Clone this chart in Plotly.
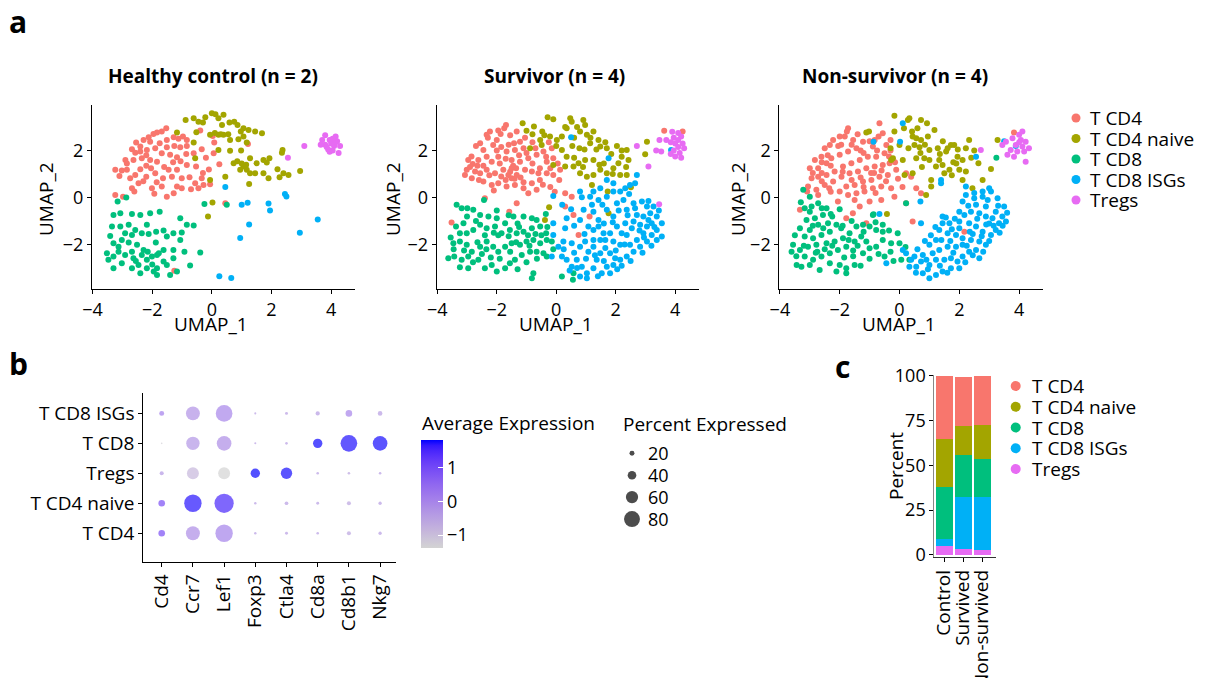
import plotly.graph_objects as go

W, H = 1207, 678
OFFSET = 8  # page body margin of the generated html
FONT = "Open Sans"

# ---------------- data ----------------
CLUSTERS = ["T CD4", "T CD4 naive", "T CD8", "T CD8 ISGs", "Tregs"]
COLORS = ["#F8766D", "#A3A500", "#00BF7D", "#00B0F6", "#E76BF3"]
PANEL_TITLES = ["Healthy control (n = 2)", "Survivor (n = 4)", "Non-survivor (n = 4)"]

# Healthy control UMAP points per cluster
HC_TCD4 = [(-1.53,2.95),(-1.68,2.81),(-1.84,2.77),(-1.96,2.71),(-2.12,2.57),(-2.07,2.38),(-2.29,2.45),(-2.54,2.34),(-2.40,2.17),(-2.68,2.06),(-2.57,1.91),(-2.40,1.96),(-2.18,2.03),(-1.90,2.10),(-1.75,2.31),(-1.51,2.45),(-1.28,2.57),(-1.12,2.50),(-0.97,2.60),(-0.84,2.45),(-0.39,2.85),(-1.26,2.20),(-1.06,2.14),(-0.84,2.20),(-1.51,2.14),(-1.68,1.89),(-1.40,1.82),(-1.17,1.72),(-0.86,1.86),(-0.61,1.89),(-0.34,2.06),(0.06,1.89),(0.08,2.34),(-2.90,1.60),(-2.63,1.60),(-2.35,1.67),(-2.07,1.60),(-1.84,1.53),(-3.24,1.18),(-3.02,1.15),(-3.10,0.92),(-2.85,1.18),(-2.74,0.82),(-2.57,0.96),(-2.40,1.21),(-2.20,0.89),(-2.04,1.25),(-1.90,1.04),(-1.64,0.82),(-1.45,1.18),(-1.34,0.89),(-1.17,1.18),(-1.01,0.82),(-0.75,0.87),(-0.56,0.61),(-0.34,0.82),(-0.28,0.54),(-0.53,1.32),(-0.84,1.39),(-0.06,0.57),(0.25,1.42),(-2.68,0.40),(-2.46,0.61),(-2.60,0.26),(-3.24,0.11),(-2.98,0.04),(-1.93,0.16),(-2.01,0.40),(-1.68,0.47),(-1.51,0.04),(-1.17,0.47),(-1.28,0.18),(-1.01,0.40),(0.45,-0.24),(-1.26,-3.11),(1.21,2.28),(-0.10,1.20),(-0.30,1.05),(-1.60,1.30),(-2.20,1.35),(-1.30,1.50),(-0.70,0.35),(-0.45,0.40),(-2.30,0.70),(0.03,2.62),(-2.85,1.45),(-1.05,1.55),(-0.20,1.70),(-1.85,0.65),(-2.20,1.80)]
HC_NAIVE = [(-0.88,3.30),(-0.61,3.38),(-0.45,3.23),(-0.30,3.19),(-0.22,3.42),(0.00,3.59),(0.12,3.55),(0.22,3.38),(0.39,3.52),(0.34,3.09),(0.59,3.19),(0.75,3.23),(0.86,3.09),(1.06,2.95),(0.97,2.81),(1.23,2.88),(1.45,2.81),(1.68,2.74),(-0.06,2.67),(0.22,2.67),(0.39,2.67),(0.61,2.45),(0.89,2.48),(1.06,2.60),(1.17,2.34),(-0.52,2.78),(-1.17,2.77),(-0.61,2.34),(0.22,2.03),(0.61,1.99),(0.98,2.00),(1.28,1.67),(1.50,1.46),(1.73,1.60),(1.93,1.67),(1.84,1.49),(1.06,1.32),(1.17,1.18),(0.95,1.18),(1.28,1.04),(1.45,1.04),(1.73,1.04),(1.90,0.82),(1.25,0.58),(0.73,1.46),(0.45,0.89),(-0.06,0.75),(2.20,1.21),(2.27,0.87),(2.40,1.04),(2.57,0.96),(2.35,1.91),(2.96,1.13),(-0.56,1.67),(0.02,-0.21),(-0.13,-0.81),(2.37,2.03),(0.30,2.70),(0.55,2.70),(0.10,2.75),(1.00,1.45),(1.15,1.40),(0.85,1.55)]
HC_CD8 = [(-3.16,-0.17),(-2.87,0.00),(-3.30,-0.74),(-3.07,-0.67),(-2.68,-0.70),(-2.40,-0.74),(-2.07,-0.67),(-1.75,-0.60),(-3.35,-1.23),(-3.07,-1.23),(-2.79,-1.16),(-2.57,-1.38),(-2.35,-1.52),(-2.18,-1.16),(-1.87,-1.45),(-1.62,-1.40),(-1.29,-1.52),(-1.06,-0.88),(-0.84,-1.16),(-0.61,-1.19),(-1.01,-1.49),(-3.41,-1.63),(-3.30,-1.94),(-3.02,-1.80),(-2.79,-1.91),(-2.51,-2.01),(-2.68,-2.30),(-2.29,-2.23),(-1.88,-1.91),(-1.62,-2.23),(-1.29,-2.23),(-1.51,-1.66),(-3.52,-2.37),(-3.30,-2.51),(-3.13,-2.30),(-2.91,-2.44),(-2.63,-2.58),(-2.35,-2.44),(-2.18,-2.65),(-2.01,-2.51),(-1.84,-2.44),(-1.62,-2.72),(-1.51,-2.87),(-1.84,-3.01),(-2.18,-3.01),(-2.46,-2.87),(-2.68,-3.01),(-3.02,-2.79),(-3.30,-3.01),(-3.47,-2.65),(-1.84,-3.29),(-2.40,-3.22),(-1.40,-3.29),(-1.17,-3.15),(-0.73,-2.89),(-0.39,-2.34),(-0.92,-2.30),(-1.29,-2.58),(-1.06,-1.80),(-0.25,-0.27),(0.50,-0.31),(-2.68,-1.59),(-2.12,-1.55),(-2.91,-1.52),(-1.78,-2.37),(-2.15,-2.30),(-3.13,-2.09),(-2.00,-2.85),(-2.55,-2.70),(-1.95,-3.15)]
HC_ISG = [(0.45,0.45),(2.45,0.15),(2.50,0.05),(1.00,-0.30),(1.20,-0.22),(1.90,-0.25),(1.95,-0.55),(1.25,-1.15),(0.95,-1.72),(2.95,-1.50),(3.55,-0.93),(0.25,-3.35),(0.65,-3.42)]
HC_TREG = [(3.80,2.65),(4.15,2.60),(3.70,2.45),(3.95,2.45),(4.20,2.40),(3.80,2.25),(4.00,2.30),(4.10,2.20),(4.30,2.20),(3.65,2.25),(3.90,2.05),(4.05,2.00),(4.25,1.90),(3.95,1.95),(4.15,2.35),(3.85,2.15),(4.05,2.50),(3.10,2.20),(2.55,1.70)]

# Survivor UMAP points per cluster
SV_TCD4 = [(-1.75,2.95),(-1.69,3.09),(-1.87,2.71),(-2.00,2.45),(-2.12,2.24),(-2.56,2.31),(-2.45,2.03),(-2.96,1.60),(-2.81,1.43),(-2.62,1.60),(-2.34,1.74),(-2.17,1.53),(-1.95,1.74),(-1.67,1.96),(-1.39,2.03),(-1.10,2.10),(-1.33,2.81),(-1.42,2.31),(-1.22,2.38),(-1.50,1.60),(-1.22,1.53),(-0.94,1.67),(-0.66,1.82),(-0.43,1.96),(-0.15,2.10),(-0.34,1.74),(-0.10,1.67),(-3.07,0.96),(-3.01,1.18),(-2.73,1.11),(-2.84,0.82),(-2.56,1.04),(-2.34,1.18),(-2.06,1.04),(-1.78,1.18),(-1.61,0.96),(-1.50,0.82),(-1.33,0.96),(-1.05,1.18),(-0.82,1.11),(-0.60,1.04),(-0.32,1.04),(-0.10,0.96),(-2.45,0.68),(-2.17,0.54),(-1.95,0.61),(-1.67,0.47),(-1.39,0.54),(-1.10,0.40),(-0.82,0.61),(-0.66,0.33),(-0.94,0.18),(-2.40,-0.03),(-1.33,-0.24),(-1.58,-0.60),(0.30,0.18),(0.52,0.04),(0.30,-0.38),(0.58,-0.74),(1.12,-0.81),(0.75,-1.59),(-3.52,-1.06),(-0.32,1.53),(0.13,1.18),(-1.50,1.25),(-2.23,2.81),(-2.34,2.67),(-1.55,1.10),(-1.45,1.35),(-1.70,0.75),(-1.20,0.85),(-2.65,1.35),(-1.85,2.15),(-1.05,2.55),(-0.80,2.35),(0.05,1.45),(-0.55,0.75),(-1.85,0.90),(-2.10,0.30),(3.63,2.84),(4.25,2.81),(-0.25,2.35),(-2.85,1.75),(-2.70,2.20),(-2.30,2.55),(-1.95,2.85),(-1.55,2.65),(-1.60,2.25),(-1.25,1.80),(-0.80,1.45),(-0.55,1.25),(-0.20,1.25),(-1.90,1.45),(-2.45,1.35),(-2.90,1.30),(-2.60,0.75),(-1.40,0.80),(-1.10,0.65),(-0.45,0.55),(-0.20,0.45),(-2.00,2.00),(-1.70,1.65),(-1.00,1.90),(-0.70,2.10),(-1.35,1.25),(-2.25,0.95),(0.10,0.75),(-0.05,0.25)]
SV_NAIVE = [(-1.13,3.16),(-0.75,3.02),(-1.00,2.84),(-0.47,2.81),(-0.29,3.42),(-0.10,3.33),(-0.21,2.60),(0.02,2.45),(0.19,2.60),(0.35,2.95),(0.47,3.38),(0.52,3.23),(0.91,3.30),(0.97,3.09),(0.80,2.81),(1.03,2.67),(1.25,2.81),(1.42,2.45),(1.14,2.31),(1.48,2.17),(1.70,2.10),(2.04,2.20),(2.37,2.03),(2.20,1.74),(2.43,1.60),(2.09,1.46),(1.92,1.25),(2.15,0.96),(2.37,0.96),(1.70,1.04),(1.48,1.18),(1.25,1.60),(0.97,1.60),(0.75,1.46),(0.58,1.32),(0.80,1.04),(1.03,0.89),(1.25,0.96),(1.20,0.54),(1.73,0.26),(1.76,-0.67),(2.99,1.84),(3.05,2.38),(0.19,2.03),(0.35,1.74),(-0.10,1.39),(0.30,1.32),(-0.88,2.10),(-0.49,2.24),(-0.24,-0.41),(-0.38,-0.95),(2.51,0.44),(0.54,2.20),(-0.54,2.45),(0.78,2.10),(1.35,2.05),(1.60,1.45),(0.60,2.55),(0.95,2.05),(1.85,1.85),(0.30,3.00),(0.70,3.00),(1.15,2.55),(1.65,2.35),(2.20,2.00),(2.35,1.30),(1.90,1.00),(1.45,1.40),(0.90,1.30),(0.60,1.70),(0.00,2.20),(-0.40,2.65),(-0.80,2.70)]
SV_CD8 = [(-3.35,-0.31),(-3.18,-0.45),(-2.99,-0.45),(-2.79,-0.52),(-2.43,-0.10),(-2.56,-0.74),(-2.28,-0.81),(-2.00,-0.88),(-1.72,-1.09),(-1.44,-0.81),(-1.10,-0.81),(-0.82,-0.88),(-0.66,-0.95),(-3.37,-1.23),(-3.12,-1.09),(-3.24,-1.52),(-3.01,-1.52),(-2.79,-1.38),(-2.56,-1.16),(-2.34,-1.30),(-2.06,-1.23),(-1.84,-1.52),(-1.56,-1.38),(-1.33,-1.52),(-1.10,-1.45),(-0.82,-1.30),(-0.54,-1.23),(-3.46,-1.94),(-3.24,-1.87),(-3.01,-2.01),(-2.84,-2.30),(-2.56,-2.09),(-2.34,-1.87),(-2.12,-2.09),(-1.95,-2.30),(-1.72,-2.09),(-1.50,-1.94),(-1.22,-2.01),(-1.00,-1.87),(-0.77,-1.80),(-0.54,-1.94),(-0.32,-1.80),(-3.63,-2.58),(-3.43,-2.51),(-3.18,-2.65),(-2.96,-2.51),(-3.24,-2.96),(-2.96,-3.01),(-2.62,-2.65),(-2.40,-3.01),(-2.17,-2.87),(-2.00,-3.15),(-1.72,-3.01),(-1.56,-2.79),(-1.39,-2.65),(-1.16,-2.44),(-0.88,-2.30),(-0.66,-2.30),(-0.43,-2.37),(-0.32,-2.51),(-0.77,-3.22),(-0.82,-3.43),(0.19,-3.36),(0.56,-3.50),(0.58,-3.22),(-0.15,-1.87),(-0.34,-1.52),(-0.35,-0.70),(-1.95,-1.60),(-2.65,-1.90),(-1.30,-1.10),(-2.20,-2.55),(-3.00,-0.80),(-2.70,-1.00),(-2.40,-1.60),(-2.10,-1.50),(-1.60,-1.65),(-1.35,-1.90),(-0.95,-1.60),(-0.70,-1.55),(-0.50,-1.60),(-0.90,-2.05),(-0.65,-2.60),(-1.00,-2.75),(-1.30,-3.05),(-1.90,-2.60),(-2.35,-2.20),(-2.80,-2.75),(-3.10,-2.25),(-3.45,-2.20),(-2.00,-0.55),(-1.60,-0.75),(-1.25,-1.25),(-0.30,-1.25),(-3.55,-1.70),(-2.50,-2.40),(-1.55,-2.30),(-0.10,-2.20)]
SV_ISG = [(-0.10,0.07),(0.86,0.01),(1.14,0.04),(1.42,-0.10),(1.70,0.04),(1.92,0.26),(2.15,0.26),(2.32,0.40),(2.48,0.54),(2.65,0.61),(2.71,0.96),(1.76,1.67),(1.70,0.75),(1.92,0.61),(2.04,-0.24),(2.26,-0.10),(2.60,-0.24),(2.88,-0.17),(3.05,-0.38),(3.27,-0.38),(3.16,-0.67),(2.93,-0.81),(2.71,-0.74),(3.38,-0.81),(3.21,-1.09),(3.55,-1.09),(3.05,-1.23),(2.82,-1.16),(2.60,-1.02),(3.38,-1.38),(3.55,-1.66),(3.21,-1.59),(2.93,-1.52),(2.71,-1.80),(3.05,-1.87),(3.38,-1.80),(2.48,-2.01),(2.82,-2.09),(2.60,-2.30),(2.37,-2.51),(2.15,-2.65),(1.92,-2.87),(1.70,-2.94),(1.98,-2.58),(1.81,-2.37),(2.15,-2.01),(1.92,-1.87),(2.20,-1.52),(2.37,-1.59),(2.04,-1.23),(1.81,-1.52),(1.59,-1.52),(1.42,-1.23),(1.25,-1.38),(1.48,-1.80),(1.25,-2.09),(1.48,-2.37),(1.36,-2.65),(1.25,-3.01),(1.53,-3.22),(1.81,-3.22),(1.03,-3.22),(0.86,-2.94),(0.69,-2.65),(0.80,-3.36),(1.03,-3.43),(0.52,-2.94),(0.35,-2.65),(0.19,-2.51),(0.07,-2.09),(0.24,-1.87),(0.52,-1.94),(0.80,-2.09),(1.08,-2.30),(0.97,-1.87),(-0.10,-1.59),(-0.10,-1.09),(0.35,-0.88),(0.80,-0.95),(0.92,-0.52),(1.25,-0.60),(1.42,-0.95),(1.08,-1.23),(1.70,-0.52),(1.92,-0.81),(2.37,-0.52),(2.32,-1.09),(2.54,-1.30),(-0.15,-2.51),(0.80,0.26),(1.25,0.26),(1.48,0.40),(0.50,2.57),(3.86,2.03),(2.90,-2.35),(3.10,-0.95),(1.60,-2.70),(0.45,-3.10),(2.00,-2.25),(0.20,-0.30),(0.50,-0.50),(0.60,-1.20),(0.30,-1.30),(0.95,-1.55),(1.25,-1.80),(1.65,-1.80),(1.65,-2.15),(2.30,-2.00),(2.50,-2.70),(2.20,-2.90),(1.00,-2.60),(1.30,-2.45),(0.60,-2.35),(0.25,-2.20),(0.70,-3.00),(1.40,-3.35),(2.05,-3.05),(2.80,-1.40),(3.30,-1.25),(3.45,-0.55),(3.10,-0.15),(2.45,0.15),(1.55,-0.30),(1.20,-0.30),(2.65,-0.45),(2.40,-0.75),(2.10,-0.55),(1.90,-1.05),(1.60,-1.10),(3.20,-2.05),(2.95,-1.70)]
SV_TREG = [(3.90,2.80),(4.10,2.75),(4.20,2.60),(3.95,2.55),(4.10,2.45),(4.25,2.30),(4.00,2.30),(3.85,2.35),(4.10,2.15),(4.30,2.10),(3.95,2.00),(4.15,1.90),(4.00,1.75),(3.85,1.85),(4.20,1.70),(3.70,2.45),(3.47,2.45),(3.36,2.00),(3.10,1.32),(3.53,1.96),(3.46,-0.28),(2.71,2.20)]

# Non-survivor UMAP points per cluster
NS_TCD4 = [(-1.72,2.95),(-1.76,2.81),(-1.83,2.60),(-2.22,2.45),(-2.33,2.24),(-2.50,2.10),(-2.61,1.74),(-2.83,1.60),(-3.00,1.25),(-2.72,1.25),(-2.44,1.46),(-2.28,1.67),(-2.00,1.82),(-1.72,1.96),(-1.44,2.10),(-1.22,2.38),(-0.89,2.17),(-0.83,2.45),(-0.67,3.16),(-0.56,2.74),(-0.44,2.24),(-0.50,1.89),(-0.78,1.74),(-1.06,1.74),(-1.33,1.60),(-1.61,1.46),(-1.89,1.32),(-2.17,1.11),(-2.44,0.96),(-2.72,0.89),(-2.94,0.82),(-3.06,0.47),(-2.78,0.33),(-3.09,0.26),(-3.33,-0.52),(-2.50,0.54),(-2.22,0.68),(-1.94,0.89),(-1.67,1.04),(-1.39,1.11),(-1.11,1.25),(-0.83,1.32),(-0.56,1.39),(-0.33,1.46),(-0.11,1.18),(-0.39,0.96),(-0.67,0.89),(-0.94,0.75),(-1.22,0.68),(-1.50,0.54),(-1.78,0.47),(-2.00,0.26),(-1.72,0.11),(-1.44,0.18),(-1.17,0.26),(-0.89,0.40),(-0.61,0.47),(-0.28,0.40),(-0.17,0.04),(-0.61,-0.10),(-1.00,-0.17),(-1.33,-0.38),(-1.56,-0.67),(-1.78,-0.88),(-1.11,-1.09),(-2.06,-0.17),(0.22,1.04),(0.39,0.89),(0.56,0.40),(0.72,0.18),(0.22,-0.24),(0.44,-1.02),(2.17,-1.45),(-2.72,0.11),(3.83,2.77),(-1.95,2.25),(-1.20,1.90),(-0.95,1.05),(-2.30,0.25),(-0.30,2.00),(-1.55,2.45),(-2.60,1.05),(-2.90,1.05),(-2.60,1.50),(-2.40,1.80),(-2.05,2.20),(-1.60,2.25),(-1.30,2.00),(-1.00,2.40),(-0.75,2.00),(-0.35,1.75),(-0.15,1.50),(-0.60,1.15),(-0.85,1.05),(-1.30,0.85),(-1.60,0.75),(-1.90,1.10),(-2.30,1.35),(-2.60,0.70),(-2.35,0.40),(-1.20,0.45),(-0.45,0.70),(-0.05,0.80),(0.10,0.45),(-0.80,0.20),(-1.50,-0.10),(-2.00,2.60),(-1.40,2.70),(-0.70,2.60),(-0.30,2.45)]
NS_NAIVE = [(-1.11,2.77),(-1.02,2.81),(-0.17,3.48),(-0.17,2.81),(0.28,3.30),(0.33,3.38),(0.42,2.81),(0.72,3.30),(0.92,3.16),(1.17,2.88),(0.56,2.52),(0.72,2.45),(0.50,2.24),(0.67,2.14),(1.00,2.03),(1.28,2.10),(1.61,2.10),(1.72,2.24),(1.83,2.24),(1.56,1.96),(1.94,1.74),(2.22,2.10),(2.33,2.45),(2.50,2.00),(2.11,1.60),(2.00,1.18),(2.22,1.11),(1.67,1.18),(1.44,1.39),(1.22,1.32),(1.33,1.60),(1.00,1.60),(0.83,1.67),(0.56,1.67),(0.44,1.04),(0.17,0.96),(0.11,1.60),(-0.22,1.67),(-0.28,1.60),(1.06,0.75),(1.06,0.47),(0.89,0.11),(2.11,0.75),(2.44,0.40),(2.78,0.75),(3.06,1.22),(2.64,1.46),(-0.42,-0.70),(0.44,2.60),(0.00,2.24),(1.50,1.04),(3.28,2.45),(1.80,1.50),(0.70,1.90),(1.95,2.05),(0.15,2.95),(0.60,2.95),(0.95,2.60),(1.45,2.40),(1.35,1.85),(1.90,1.45),(2.40,1.70),(1.75,0.95),(0.75,1.30),(0.30,2.10),(-0.30,2.10),(0.85,2.25)]
NS_CD8 = [(-3.22,0.33),(-3.00,0.04),(-2.72,-0.24),(-2.94,-0.38),(-3.17,-0.45),(-2.44,-0.45),(-2.56,-0.74),(-2.83,-0.88),(-3.11,-0.95),(-3.33,-1.30),(-3.00,-1.38),(-2.72,-1.16),(-2.39,-1.09),(-2.11,-1.16),(-2.33,-1.45),(-2.61,-1.59),(-2.89,-1.73),(-3.17,-1.66),(-3.56,-2.01),(-3.61,-2.30),(-3.33,-2.23),(-3.06,-2.09),(-2.78,-2.01),(-2.44,-1.94),(-2.17,-1.87),(-1.89,-1.73),(-1.67,-1.52),(-1.44,-1.23),(-1.22,-1.16),(-1.00,-1.23),(-0.78,-1.38),(-0.56,-1.45),(-0.89,-0.74),(-1.28,-1.66),(-1.50,-1.87),(-1.78,-2.09),(-2.06,-2.23),(-2.33,-2.37),(-2.61,-2.51),(-2.89,-2.65),(-3.17,-2.51),(-3.44,-2.87),(-3.28,-2.94),(-3.00,-2.87),(-2.67,-3.08),(-2.33,-2.79),(-2.11,-3.15),(-2.00,-2.87),(-1.78,-3.01),(-1.50,-2.87),(-1.78,-3.22),(-1.22,-2.37),(-1.00,-2.16),(-0.78,-2.09),(-1.11,-1.87),(-0.56,-1.80),(-0.28,-1.94),(-0.50,-2.51),(0.00,-1.94),(0.06,-2.65),(0.33,-2.65),(-0.06,-1.52),(-0.56,-1.16),(0.22,-0.24),(-0.87,-0.71),(3.24,1.70),(-2.25,-0.80),(-1.95,-1.30),(-2.75,-2.30),(-1.55,-2.50),(-3.30,-0.20),(-3.00,-0.60),(-2.60,-0.45),(-2.30,-0.70),(-2.00,-0.50),(-1.90,-1.20),(-1.60,-1.00),(-1.20,-1.45),(-0.80,-1.05),(-0.35,-1.40),(-0.30,-2.30),(-0.70,-2.40),(-1.00,-2.60),(-1.30,-2.90),(-1.55,-2.25),(-1.85,-2.55),(-2.25,-2.05),(-2.50,-2.20),(-2.80,-2.35),(-3.45,-2.50),(-3.20,-2.05),(-2.90,-1.20),(-2.55,-1.30),(-1.70,-1.80),(-1.40,-2.05),(-0.20,-2.70),(0.20,-2.10),(-3.50,-1.60)]
NS_ISG = [(-0.67,-0.70),(0.70,-0.17),(1.39,0.61),(2.22,0.47),(2.56,1.74),(2.22,0.11),(2.50,-0.03),(2.78,0.04),(3.06,0.26),(2.11,-0.17),(2.56,-0.31),(2.89,-0.38),(3.22,-0.60),(3.44,-0.81),(3.56,-1.02),(3.33,-1.09),(3.11,-0.88),(2.89,-0.81),(2.67,-0.67),(2.39,-0.60),(2.17,-0.74),(3.22,-1.38),(3.06,-1.59),(2.78,-1.45),(2.56,-1.23),(2.33,-1.09),(2.00,-1.02),(1.67,-1.09),(1.44,-1.09),(1.33,-1.38),(1.61,-1.52),(1.89,-1.59),(2.11,-1.73),(2.39,-1.80),(2.67,-1.87),(2.89,-2.01),(2.56,-2.23),(2.33,-2.30),(2.67,-2.58),(2.11,-2.51),(1.94,-2.72),(1.72,-2.58),(1.50,-2.65),(1.72,-3.01),(2.00,-3.01),(1.44,-3.15),(1.22,-3.29),(1.00,-3.43),(0.78,-3.22),(0.56,-2.94),(0.72,-2.72),(1.00,-2.87),(1.22,-2.65),(1.11,-2.37),(1.33,-2.23),(1.61,-2.09),(1.89,-2.09),(2.11,-2.01),(1.00,-2.01),(1.22,-1.80),(0.78,-2.44),(0.50,-2.51),(0.22,-2.37),(0.11,-2.23),(0.39,-2.65),(0.33,-2.94),(1.44,-0.81),(2.00,-0.60),(0.72,-1.09),(2.78,0.26),(3.00,0.40),(3.28,-0.03),(3.50,-0.38),(-0.44,-2.79),(0.11,3.16),(0.02,2.38),(-0.87,2.38),(1.39,0.75),(3.89,2.20),(3.50,2.40),(2.45,-1.55),(1.80,-2.35),(0.95,-3.05),(3.00,-1.10),(1.55,-0.85),(1.20,-1.25),(1.05,-1.60),(0.85,-1.85),(0.60,-2.20),(0.90,-2.65),(1.35,-2.90),(1.60,-3.20),(2.20,-2.75),(2.45,-2.45),(2.80,-2.30),(3.00,-1.85),(3.35,-1.50),(3.45,-1.20),(3.60,-0.65),(3.30,-0.35),(2.95,-0.10),(2.60,-0.90),(2.35,-1.45),(2.00,-1.30),(1.75,-1.35),(1.40,-1.80),(1.70,-1.85),(2.25,-2.05),(0.55,-3.20),(2.50,0.20),(2.30,-0.35),(1.85,-0.90),(2.75,-1.65),(2.90,-1.15),(3.15,-1.20)]
NS_TREG = [(3.56,2.38),(3.78,2.52),(4.00,2.67),(4.11,2.81),(4.06,2.45),(4.22,2.38),(3.89,2.24),(4.11,2.17),(4.33,2.10),(3.72,2.03),(3.94,1.96),(4.17,1.96),(3.61,1.82),(3.83,1.74),(4.22,1.53),(3.44,2.24),(2.72,2.03),(4.00,2.35)]

UMAP_POINTS = [
    [HC_TCD4, HC_NAIVE, HC_CD8, HC_ISG, HC_TREG],
    [SV_TCD4, SV_NAIVE, SV_CD8, SV_ISG, SV_TREG],
    [NS_TCD4, NS_NAIVE, NS_CD8, NS_ISG, NS_TREG],
]
UMAP_XTICKS = [-4, -2, 0, 2, 4]
UMAP_YTICKS = [-2, 0, 2]

# Dot plot (rows bottom->top, columns = genes)
GENES = ["Cd4", "Ccr7", "Lef1", "Foxp3", "Ctla4", "Cd8a", "Cd8b1", "Nkg7"]
DOT_GROUPS = ["T CD4", "T CD4 naive", "Tregs", "T CD8", "T CD8 ISGs"]
AVG_EXP = [
    [0.90, -0.15, 0.05, -0.45, -0.44, -0.45, -0.57, -0.44],    # T CD4
    [0.90, 1.70, 1.50, -0.45, -0.44, -0.45, -0.57, -0.44],     # T CD4 naive
    [-0.35, -0.90, -1.38, 1.79, 1.75, -0.45, -0.57, -0.44],    # Tregs
    [-1.30, -0.30, -0.15, -0.45, -0.44, 1.78, 1.72, 1.75],     # T CD8
    [0.10, -0.25, -0.02, -0.45, -0.44, -0.40, 0.00, -0.44],    # T CD8 ISGs
]
PCT_EXP = [
    [29, 69, 88, 6, 9, 7, 15, 11],
    [29, 88, 98, 6, 13, 9, 15, 11],
    [15, 58, 58, 44, 55, 7, 7, 7],
    [2, 66, 73, 4, 7, 44, 84, 73],
    [20, 69, 84, 4, 9, 16, 29, 18],
]
SIZE_BREAKS = [20, 40, 60, 80]
COLOR_TICKS = [-1, 0, 1]
EXP_MIN, EXP_MAX = -1.38, 1.82

# Stacked bars (percent of cells)
CONDITIONS = ["Control", "Survived", "Non-survived"]
PCT_TCD4 = [35.3, 27.0, 27.5]
PCT_NAIVE = [26.8, 16.3, 19.0]
PCT_CD8 = [29.0, 23.3, 21.0]
PCT_ISG = [3.7, 29.0, 29.5]
PCT_TREG = [5.2, 3.5, 3.0]
BAR_TICKS = [0, 25, 50, 75, 100]

# ---------------- helpers ----------------
def px(x):
    return (x - OFFSET) / W

def py(y):
    return 1 - (y - OFFSET) / H

def dot_size(p):
    return 1.3 + 0.183 * p

def _to_lin(c):
    c = c / 255
    return c / 12.92 if c <= 0.04045 else ((c + 0.055) / 1.055) ** 2.4

def _from_lin(c):
    c = max(0.0, c)
    v = 12.92 * c if c <= 0.0031308 else 1.055 * c ** (1 / 2.4) - 0.055
    return int(max(0, min(255, round(v * 255))))

def rgb_to_lab(r, g, b):
    R, G, B = _to_lin(r), _to_lin(g), _to_lin(b)
    X = 0.4124 * R + 0.3576 * G + 0.1805 * B
    Y = 0.2126 * R + 0.7152 * G + 0.0722 * B
    Z = 0.0193 * R + 0.1192 * G + 0.9505 * B
    def f(t):
        return t ** (1 / 3) if t > 0.008856 else 7.787 * t + 16 / 116
    fx, fy, fz = f(X / 0.95047), f(Y), f(Z / 1.08883)
    return 116 * fy - 16, 500 * (fx - fy), 200 * (fy - fz)

def lab_to_rgb(L, a, b):
    fy = (L + 16) / 116
    fx = fy + a / 500
    fz = fy - b / 200
    def finv(t):
        return t ** 3 if t ** 3 > 0.008856 else (t - 16 / 116) / 7.787
    X, Y, Z = finv(fx) * 0.95047, finv(fy), finv(fz) * 1.08883
    R = 3.2406 * X - 1.5372 * Y - 0.4986 * Z
    G = -0.9689 * X + 1.8758 * Y + 0.0415 * Z
    B = 0.0557 * X - 0.2040 * Y + 1.0570 * Z
    return _from_lin(R), _from_lin(G), _from_lin(B)

lab_lo = rgb_to_lab(211, 211, 211)
lab_hi = rgb_to_lab(0, 0, 255)
COLORSCALE = []
for i in range(21):
    t = i / 20
    L = lab_lo[0] + t * (lab_hi[0] - lab_lo[0])
    A = lab_lo[1] + t * (lab_hi[1] - lab_lo[1])
    B = lab_lo[2] + t * (lab_hi[2] - lab_lo[2])
    r, g, b = lab_to_rgb(L, A, B)
    COLORSCALE.append([t, f"rgb({r},{g},{b})"])

TICKFONT = dict(family=FONT, size=18, color="black")
LABFONT = dict(family=FONT, size=19, color="black")

def axis(domain, **kw):
    d = dict(domain=domain, showline=True, linecolor="black", linewidth=1,
             ticks="outside", ticklen=4, tickwidth=1, tickcolor="black",
             showgrid=False, zeroline=False, tickfont=TICKFONT, fixedrange=True,
             automargin=False)
    d.update(kw)
    return d

def hidden(domain, rng, **kw):
    d = dict(domain=domain, range=rng, visible=False, fixedrange=True)
    d.update(kw)
    return d

fig = go.Figure()
layout = {}
annotations = []

# ---------------- panel a: UMAPs ----------------
UMAP_XDOM = [(92, 355), (436.7, 699), (779.3, 1043)]
UMAP_TITLE_X = [213, 554, 895]
UMAP_XLAB_X = [211, 556, 899]
UMAP_YLAB_X = [46, 393, 738]
for p in range(3):
    xa = "x" if p == 0 else f"x{p + 1}"
    ya = "y" if p == 0 else f"y{p + 1}"
    for c, pts in enumerate(UMAP_POINTS[p]):
        fig.add_trace(go.Scatter(
            x=[q[0] for q in pts], y=[q[1] for q in pts], mode="markers",
            marker=dict(color=COLORS[c], size=6, line=dict(width=0)),
            name=CLUSTERS[c], showlegend=False, xaxis=xa, yaxis=ya))
    x0, x1 = UMAP_XDOM[p]
    key = "" if p == 0 else str(p + 1)
    layout["xaxis" + key] = axis([px(x0), px(x1)], range=[-4.02, 4.8],
                                tickvals=UMAP_XTICKS, anchor=ya)
    layout["yaxis" + key] = axis([py(289), py(105)], range=[-3.89, 3.94],
                                tickvals=UMAP_YTICKS, anchor=xa)
    annotations.append(dict(text=f"<b>{PANEL_TITLES[p]}</b>", x=px(UMAP_TITLE_X[p]), y=py(76),
                            xref="paper", yref="paper", showarrow=False,
                            xanchor="center", yanchor="middle",
                            font=dict(family=FONT, size=19, color="black")))
    annotations.append(dict(text="UMAP_1", x=px(UMAP_XLAB_X[p]), y=py(324),
                            xref="paper", yref="paper", showarrow=False,
                            xanchor="center", yanchor="middle", font=LABFONT))
    annotations.append(dict(text="UMAP_2", x=px(UMAP_YLAB_X[p]), y=py(199), textangle=-90,
                            xref="paper", yref="paper", showarrow=False,
                            xanchor="center", yanchor="middle", font=LABFONT))

# UMAP legend (manual keys)
fig.add_trace(go.Scatter(x=[0] * len(CLUSTERS), y=list(range(len(CLUSTERS))), mode="markers",
                         marker=dict(color=COLORS, size=9, line=dict(width=0)),
                         showlegend=False, xaxis="x7", yaxis="y7", hoverinfo="skip"))
layout["xaxis7"] = hidden([px(1066), px(1200)], [-10, 124], anchor="y7")
layout["yaxis7"] = hidden([py(210.25), py(107.75)], [4.5, -0.5], anchor="x7")
for i, name in enumerate(CLUSTERS):
    annotations.append(dict(text=name, x=12, y=i, xref="x7", yref="y7", showarrow=False,
                            xanchor="left", yanchor="middle", font=LABFONT))

# ---------------- panel b: dot plot ----------------
dx, dy, dsz, dcol = [], [], [], []
for r, grp in enumerate(DOT_GROUPS):
    for g, gene in enumerate(GENES):
        dx.append(gene)
        dy.append(grp)
        dsz.append(dot_size(PCT_EXP[r][g]))
        dcol.append(AVG_EXP[r][g])
fig.add_trace(go.Scatter(
    x=dx, y=dy, mode="markers", xaxis="x4", yaxis="y4", showlegend=False,
    marker=dict(size=dsz, color=dcol, colorscale=COLORSCALE, cmin=EXP_MIN, cmax=EXP_MAX,
                line=dict(width=0),
                colorbar=dict(x=px(421), xanchor="left", y=py(440), yanchor="top",
                              len=107.7, lenmode="pixels", thickness=21.7,
                              thicknessmode="pixels", outlinewidth=0, xpad=0, ypad=0,
                              tickvals=COLOR_TICKS, ticktext=["\u22121", "0", "1"],
                              ticks="inside", ticklen=5, tickcolor="white", tickwidth=1,
                              tickfont=TICKFONT))))
layout["xaxis4"] = axis([px(143.3), px(395.7)], type="category", categoryorder="array",
                        categoryarray=GENES, tickvals=GENES, range=[-0.59, 7.5],
                        tickangle=-90, anchor="y4", tickfont=LABFONT)
layout["yaxis4"] = axis([py(561.7), py(393.3)], type="category", categoryorder="array",
                        categoryarray=DOT_GROUPS, tickvals=DOT_GROUPS, range=[-0.95, 4.67],
                        anchor="x4", tickfont=LABFONT)
annotations.append(dict(text="Average Expression", x=px(420), y=py(423), xref="paper",
                        yref="paper", showarrow=False, xanchor="left", yanchor="middle",
                        font=LABFONT))
annotations.append(dict(text="Percent Expressed", x=px(621), y=py(424), xref="paper",
                        yref="paper", showarrow=False, xanchor="left", yanchor="middle",
                        font=LABFONT))
# size legend
fig.add_trace(go.Scatter(x=[12] * len(SIZE_BREAKS), y=list(range(len(SIZE_BREAKS))),
                         mode="markers", xaxis="x6", yaxis="y6", showlegend=False,
                         hoverinfo="skip",
                         marker=dict(color="black", size=[dot_size(s) for s in SIZE_BREAKS],
                                     line=dict(width=0))))
layout["xaxis6"] = hidden([px(620), px(720)], [0, 100], anchor="y6")
layout["yaxis6"] = hidden([py(530), py(442.3)], [3.5, -0.5], anchor="x6")
for i, s in enumerate(SIZE_BREAKS):
    annotations.append(dict(text=str(s), x=26, y=i, xref="x6", yref="y6", showarrow=False,
                            xanchor="left", yanchor="middle", font=TICKFONT))

# ---------------- panel c: stacked bars ----------------
bar_series = [(PCT_TREG, 4), (PCT_ISG, 3), (PCT_CD8, 2), (PCT_NAIVE, 1), (PCT_TCD4, 0)]
for vals, ci in bar_series:
    fig.add_trace(go.Bar(x=CONDITIONS, y=vals, marker=dict(color=COLORS[ci], line=dict(width=0)),
                         width=0.9, name=CLUSTERS[ci], showlegend=False,
                         xaxis="x5", yaxis="y5"))
layout["xaxis5"] = axis([px(934.3), px(995.7)], type="category", categoryorder="array",
                        categoryarray=CONDITIONS, tickvals=CONDITIONS, range=[-0.52, 2.72],
                        tickangle=-90, anchor="y5", tickfont=LABFONT, linecolor="#333333")
layout["yaxis5"] = axis([py(557.3), py(375)], range=[-1.3, 100.4], tickvals=BAR_TICKS,
                        anchor="x5", linecolor="#888888")
annotations.append(dict(text="Percent", x=px(896), y=py(466), textangle=-90, xref="paper",
                        yref="paper", showarrow=False, xanchor="center", yanchor="middle",
                        font=LABFONT))
fig.add_trace(go.Scatter(x=[0] * len(CLUSTERS), y=list(range(len(CLUSTERS))), mode="markers",
                         marker=dict(color=COLORS, size=10, line=dict(width=0)),
                         showlegend=False, xaxis="x8", yaxis="y8", hoverinfo="skip"))
layout["xaxis8"] = hidden([px(1005.7), px(1200)], [-10, 184.3], anchor="y8")
layout["yaxis8"] = hidden([py(479.3), py(375.7)], [4.5, -0.5], anchor="x8")
for i, name in enumerate(CLUSTERS):
    annotations.append(dict(text=name, x=14, y=i, xref="x8", yref="y8", showarrow=False,
                            xanchor="left", yanchor="middle", font=LABFONT))

# panel letters
for letter, lx, ly in [("a", 18, 22), ("b", 18, 363), ("c", 842, 366)]:
    annotations.append(dict(text=f"<b>{letter}</b>", x=px(lx), y=py(ly), xref="paper",
                            yref="paper", showarrow=False, xanchor="center", yanchor="middle",
                            font=dict(family=FONT, size=30, color="black")))

fig.update_layout(**layout)
fig.update_layout(width=W, height=H,
                  margin=dict(l=0, r=0, t=0, b=0, pad=0, autoexpand=False),
                  paper_bgcolor="white", plot_bgcolor="white", barmode="stack",
                  bargap=0.1, showlegend=False, annotations=annotations,
                  font=dict(family=FONT, color="black"))
fig.write_html("out.html")
